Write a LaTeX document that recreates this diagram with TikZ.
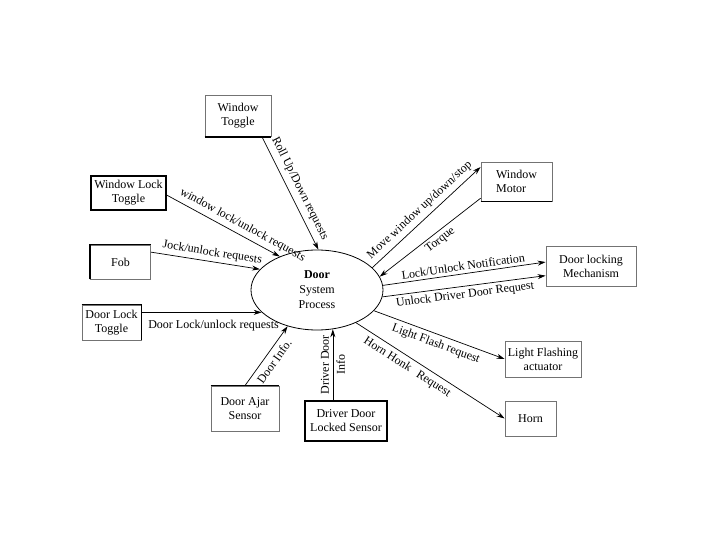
\documentclass[tikz,border=0pt]{standalone}
\usepackage{fontspec}
\setmainfont{Liberation Serif}
\usetikzlibrary{arrows.meta,shapes.geometric}
\begin{document}
\begin{tikzpicture}[x=1pt,y=-1pt,
  font=\fontsize{12}{14}\selectfont,
  box/.style={draw=black!55, line width=0.8pt, align=center, inner sep=1pt},
  darkbox/.style={box, draw=black, line width=1.2pt},
  edge/.style={draw=black, line width=1.4pt},
  flow/.style={-{Stealth[length=8pt,width=5pt]}, line width=0.7pt},
  lbl/.style={sloped, inner sep=3pt}
]
\useasboundingbox (0,0) rectangle (720,540);

% external entities
\node[box, minimum width=66pt, minimum height=41pt] (wt) at (238,116) {Window\\Toggle};
\node[darkbox, minimum width=75pt, minimum height=34pt] (wlt) at (128.5,193) {Window Lock\\Toggle};
\node[box, minimum width=60pt, minimum height=34pt] (fob) at (120.5,262) {Fob};
\node[box, minimum width=59pt, minimum height=35pt] (dlt) at (111.5,322.5) {Door Lock\\Toggle};
\node[box, minimum width=68pt, minimum height=45pt] (dajar) at (245,408.5) {Door Ajar\\Sensor};
\node[darkbox, minimum width=82pt, minimum height=40pt] (ddls) at (346,421) {Driver Door\\Locked Sensor};
\node[box, minimum width=71pt, minimum height=39pt, align=left] (wm) at (516.5,181.5) {Window\\Motor};
\node[box, minimum width=90pt, minimum height=40pt] (dlm) at (591,266) {Door locking\\Mechanism};
\node[box, minimum width=76pt, minimum height=36pt] (lfa) at (543,359) {Light Flashing\\actuator};
\node[box, minimum width=51pt, minimum height=35pt] (horn) at (530.5,418.5) {Horn};

% darker edges seen in the scan
\draw[edge] (wt.south west) -- (wt.south east);
\draw[edge] (wm.south west) -- (wm.south east);
\draw[edge] (fob.south west) -- (fob.north west) -- (fob.north east);
\draw[edge] (dajar.north west) -- (dajar.north east);
\draw[edge] (dlt.north west) -- (dlt.north east) -- (dlt.south east);

% process
\node[ellipse, draw=black, line width=0.8pt, minimum width=132pt, minimum height=80pt,
      inner sep=0pt, align=center] (door) at (317,290)
      {\textbf{Door}\\[1pt]System\\[1pt]Process};

% flows
\draw[flow] (wt.319) -- (door.88)
  node[lbl, above, inner sep=5pt, pos=0.5] {Roll Up/Down requests};
\draw[flow] (wlt.357) -- (door.138)
  node[lbl, above, inner sep=4pt, pos=0.63] {window lock/unlock requests};
\draw[flow] (fob.18) -- (door.160)
  node[lbl, above, pos=0.55] {Jock/unlock requests};
\draw[flow] (door.202 -| dlt.east) -- (door.202)
  node[below, yshift=-4pt, pos=0.6] {Door Lock/unlock requests};
\draw[flow] (dajar.north) -- (door.231)
  node[lbl, below, inner sep=5pt, pos=0.5] {Door Info.};
\draw[flow] (door.292 |- ddls.north) -- (door.292)
  node[lbl, pos=0.5, align=center] {Driver Door\\[2pt]Info};
\draw[flow] (door.22) -- (wm.158)
  node[lbl, above, inner sep=4pt, pos=0.5] {Move window up/down/stop};
\draw[flow] (wm.205) -- (door.12)
  node[lbl, below, pos=0.45] {Torque};
\draw[flow] (door.4) -- (dlm.175)
  node[lbl, above, pos=0.5] {Lock/Unlock Notification};
\draw[flow] (door.354) -- (dlm.192)
  node[lbl, below, pos=0.5] {Unlock Driver Door Request};
\draw[flow] (door.340) -- (lfa.west)
  node[lbl, below, inner sep=4pt, pos=0.5] {Light Flash request};
\draw[flow] (door.320) -- (horn.west)
  node[lbl, below, inner sep=4pt, pos=0.38] {Horn Honk\hspace{8pt}Request};
\end{tikzpicture}
\end{document}
